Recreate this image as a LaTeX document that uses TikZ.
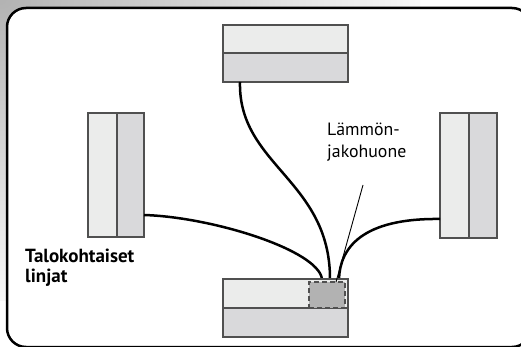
\documentclass[tikz,border=0pt]{standalone}
\usepackage{fontspec}
\setmainfont{PT Sans}
\usetikzlibrary{calc}
\definecolor{cLight}{RGB}{235,236,235}
\definecolor{cMid}{RGB}{217,217,219}
\definecolor{cDark}{RGB}{178,178,178}
\definecolor{cEdge}{RGB}{80,80,80}
\tikzset{
  cell/.style={draw=cEdge, line width=1.2pt, inner sep=0pt, outer sep=0pt, anchor=north west},
  pipe/.style={draw=black, line width=2.5pt},
  leader/.style={draw=black, line width=0.9pt},
  frame/.style={draw=black, line width=2.5pt, fill=white, rounded corners=19pt},
}
\begin{document}
\begin{tikzpicture}[x=1pt,y=-1pt]
\useasboundingbox (0,0) rectangle (521,347);
\begin{scope}
  \clip (0,0) rectangle (521,347);
  \shade[inner color=gray!60, outer color=gray!6] (-420,-300) rectangle (420,300);
  \path[frame] (7,8) rectangle (531,347);
\end{scope}

% boxes
\node[cell, fill=cLight, minimum width=125pt, minimum height=28pt] (Ta) at (223,25) {};
\node[cell, fill=cMid, minimum width=125pt, minimum height=29pt] (Tb) at (223,53) {};
\node[cell, fill=cLight, minimum width=29pt, minimum height=124pt] (La) at (88,113) {};
\node[cell, fill=cMid, minimum width=27pt, minimum height=124pt] (Lb) at (117,113) {};
\node[cell, fill=cLight, minimum width=29pt, minimum height=125pt] (Ra) at (440,113) {};
\node[cell, fill=cMid, minimum width=28pt, minimum height=125pt] (Rb) at (469,113) {};

% pipes
\draw[pipe] ($(Lb.south east)+(0,-22)$) .. controls (212,217) and (318,250) .. ($(Ta.west|-0,279)+(99,0)$) coordinate (e1);
\draw[pipe] ($(Tb.south west)+(17,0)$) .. controls (238,165) and (330,180) .. ($(Ta.west|-0,279)+(107,0)$) coordinate (e2);
\draw[pipe] ($(Ra.south west)+(0,-19)$) .. controls (362,218) and (340,248) .. ($(Ta.west|-0,279)+(116,0)$) coordinate (e3);

\node[cell, fill=cLight, minimum width=125pt, minimum height=29pt] (Ba) at (223,279) {};
\node[cell, fill=cMid, minimum width=125pt, minimum height=29pt] (Bb) at (223,308) {};
\node[cell, fill=cDark, dashed, dash pattern=on 5pt off 3pt, minimum width=36pt, minimum height=26pt] (Bd) at (309,282) {};

% labels
\node[anchor=base west, align=left, inner sep=0pt, font=\fontsize{17.8}{22}\selectfont] (lbl) at (327,158) {Lämmön-\\jakohuone};
\node[anchor=base west, align=left, inner sep=0pt, font=\fontsize{19}{19.5}\selectfont\bfseries] (tl) at (25,282) {Talokohtaiset\\linjat};
\coordinate (ls) at (363,185);
\draw[leader] (ls) -- (Bd.north -| 336,0);
\end{tikzpicture}
\end{document}
